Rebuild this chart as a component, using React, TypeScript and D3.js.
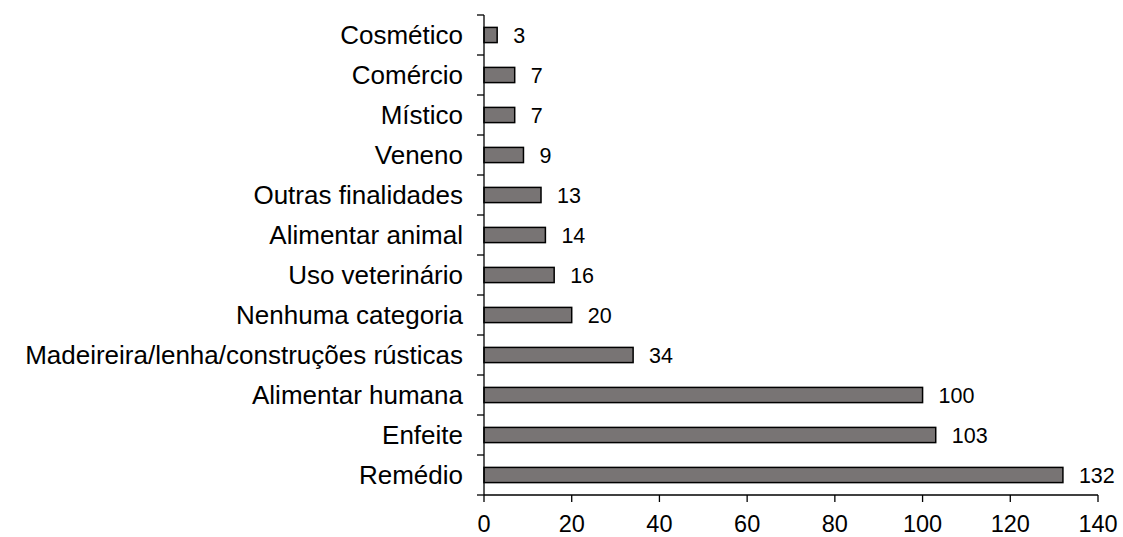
import { useEffect, useRef } from "react";
import * as d3 from "d3";

const categories = [
	"Cosmético",
	"Comércio",
	"Místico",
	"Veneno",
	"Outras finalidades",
	"Alimentar animal",
	"Uso veterinário",
	"Nenhuma categoria",
	"Madeireira/lenha/construções rústicas",
	"Alimentar humana",
	"Enfeite",
	"Remédio",
];
const values = [3, 7, 7, 9, 13, 14, 16, 20, 34, 100, 103, 132];
const xTicks = [0, 20, 40, 60, 80, 100, 120, 140];

export default function App() {
	const svgRef = useRef<SVGSVGElement>(null);

	useEffect(() => {
		if (!svgRef.current) return;
		const svg = d3.select(svgRef.current);
		svg.selectAll("*").remove();

		const left = 484;
		const right = 1098;
		const top = 15;
		const bottom = 495;

		const x = d3.scaleLinear().domain([0, 140]).range([left, right]);
		const y = d3
			.scaleBand()
			.domain(categories)
			.range([top, bottom])
			.paddingInner(0.62)
			.paddingOuter(0.31);

		const font = "Arial, 'Liberation Sans', sans-serif";

		// bars
		svg
			.append("g")
			.selectAll("rect")
			.data(categories)
			.join("rect")
			.attr("x", x(0))
			.attr("y", (d) => y(d)!)
			.attr("width", (d, i) => x(values[i]) - x(0))
			.attr("height", y.bandwidth())
			.attr("fill", "#787474")
			.attr("stroke", "#000")
			.attr("stroke-width", 1.5);

		// value labels
		svg
			.append("g")
			.selectAll("text")
			.data(categories)
			.join("text")
			.attr("x", (d, i) => x(values[i]) + 16)
			.attr("y", (d) => y(d)! + y.bandwidth() / 2)
			.attr("dy", "0.36em")
			.attr("font-family", font)
			.attr("font-size", 21.5)
			.text((d, i) => values[i]);

		// y axis
		const step = y.step();
		const yAxis = svg.append("g");
		yAxis
			.append("line")
			.attr("x1", left)
			.attr("x2", left)
			.attr("y1", top)
			.attr("y2", bottom)
			.attr("stroke", "#000")
			.attr("stroke-width", 1.3);
		yAxis
			.selectAll("line.tick")
			.data(d3.range(categories.length + 1))
			.join("line")
			.attr("class", "tick")
			.attr("x1", left - 7)
			.attr("x2", left)
			.attr("y1", (i) => top + i * step)
			.attr("y2", (i) => top + i * step)
			.attr("stroke", "#000")
			.attr("stroke-width", 1.3);
		yAxis
			.selectAll("text")
			.data(categories)
			.join("text")
			.attr("x", left - 21)
			.attr("y", (d) => y(d)! + y.bandwidth() / 2)
			.attr("dy", "0.36em")
			.attr("text-anchor", "end")
			.attr("font-family", font)
			.attr("font-size", 26)
			.text((d) => d);

		// x axis
		const xAxis = svg.append("g");
		xAxis
			.append("line")
			.attr("x1", left)
			.attr("x2", right)
			.attr("y1", bottom)
			.attr("y2", bottom)
			.attr("stroke", "#000")
			.attr("stroke-width", 1.3);
		xAxis
			.selectAll("line.tick")
			.data(xTicks)
			.join("line")
			.attr("class", "tick")
			.attr("x1", (d) => x(d))
			.attr("x2", (d) => x(d))
			.attr("y1", bottom)
			.attr("y2", bottom + 7)
			.attr("stroke", "#000")
			.attr("stroke-width", 1.3);
		xAxis
			.selectAll("text")
			.data(xTicks)
			.join("text")
			.attr("x", (d) => x(d))
			.attr("y", 532)
			.attr("text-anchor", "middle")
			.attr("font-family", font)
			.attr("font-size", 23.5)
			.text((d) => d);
	}, []);

	return (
		<svg
			ref={svgRef}
			width={1123}
			height={537}
			style={{ position: "absolute", left: 0, top: 0, background: "#fff" }}
		/>
	);
}
